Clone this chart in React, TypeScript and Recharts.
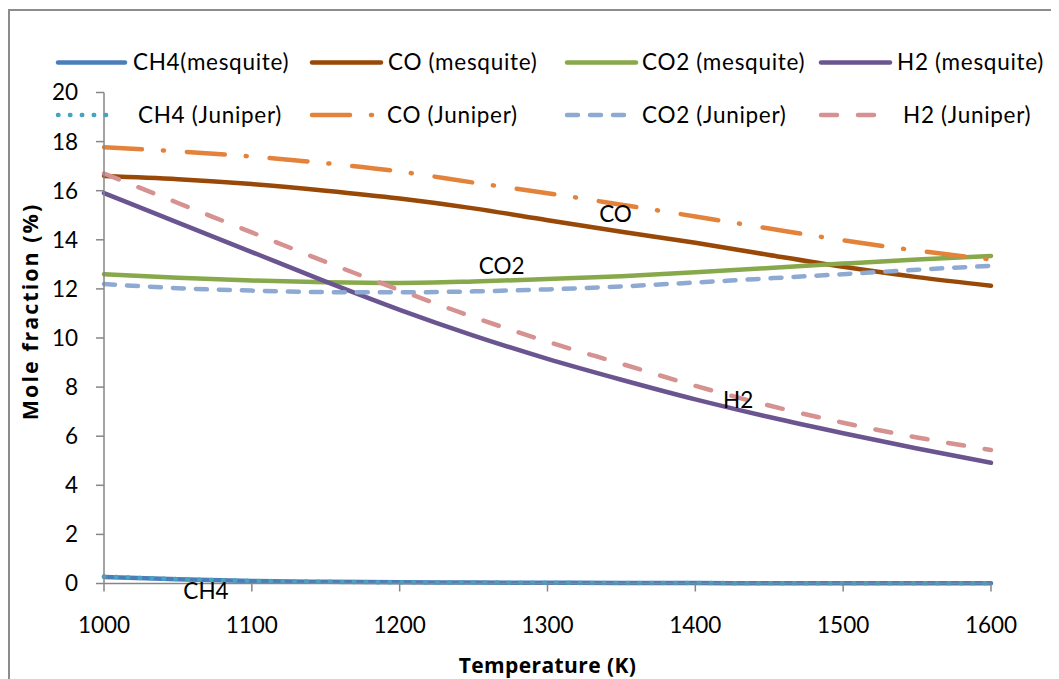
import React from 'react';
import { LineChart, Line, XAxis, YAxis, ReferenceDot, Label } from 'recharts';

// ---------- data ----------
const temperatures = [1000, 1050, 1100, 1150, 1200, 1250, 1300, 1350, 1400, 1450, 1500, 1550, 1600];

const ch4Mesquite = [0.27, 0.17, 0.1, 0.07, 0.05, 0.04, 0.03, 0.02, 0.02, 0.01, 0.01, 0.01, 0.01];
const coMesquite = [16.6, 16.47, 16.27, 16.0, 15.68, 15.28, 14.8, 14.33, 13.88, 13.38, 12.9, 12.48, 12.13];
const co2Mesquite = [12.6, 12.45, 12.34, 12.27, 12.24, 12.3, 12.4, 12.52, 12.68, 12.85, 13.03, 13.2, 13.34];
const h2Mesquite = [15.9, 14.7, 13.5, 12.3, 11.15, 10.1, 9.15, 8.3, 7.5, 6.78, 6.12, 5.5, 4.92];

const ch4Juniper = [0.28, 0.18, 0.11, 0.07, 0.05, 0.04, 0.03, 0.02, 0.02, 0.01, 0.01, 0.01, 0.01];
const coJuniper = [17.77, 17.6, 17.39, 17.12, 16.78, 16.33, 15.9, 15.43, 14.95, 14.46, 13.98, 13.56, 13.2];
const co2Juniper = [12.2, 12.03, 11.93, 11.87, 11.86, 11.9, 11.98, 12.1, 12.26, 12.43, 12.6, 12.78, 12.94];
const h2Juniper = [16.7, 15.5, 14.3, 13.1, 11.95, 10.85, 9.85, 8.95, 8.05, 7.25, 6.55, 5.95, 5.44];

const xTicks = [1000, 1100, 1200, 1300, 1400, 1500, 1600];
const yTicks = [0, 2, 4, 6, 8, 10, 12, 14, 16, 18, 20];

const annotations = [
  { text: 'CO', t: 1346, v: 15.05 },
  { text: 'CO2', t: 1269, v: 12.93 },
  { text: 'H2', t: 1429, v: 7.47 },
  { text: 'CH4', t: 1069, v: -0.31 },
];

// ---------- series styling ----------
const series = [
  { key: 'ch4M', name: 'CH4(mesquite)', values: ch4Mesquite, color: '#4A7EBB', dash: undefined as string | undefined },
  { key: 'coM', name: 'CO (mesquite)', values: coMesquite, color: '#984807', dash: undefined },
  { key: 'co2M', name: 'CO2 (mesquite)', values: co2Mesquite, color: '#87A94B', dash: undefined },
  { key: 'h2M', name: 'H2 (mesquite)', values: h2Mesquite, color: '#6B5591', dash: undefined },
  { key: 'ch4J', name: 'CH4 (Juniper)', values: ch4Juniper, color: '#45A5BF', dash: '0.5 11.4' },
  { key: 'coJ', name: 'CO (Juniper)', values: coJuniper, color: '#E3823A', dash: '38 21 1 23' },
  { key: 'co2J', name: 'CO2 (Juniper)', values: co2Juniper, color: '#8EAAD3', dash: '11 12' },
  { key: 'h2J', name: 'H2 (Juniper)', values: h2Juniper, color: '#D59291', dash: '16 21' },
];

const data = temperatures.map((t, i) => {
  const row: Record<string, number> = { t };
  series.forEach((s) => {
    row[s.key] = s.values[i];
  });
  return row;
});

// ---------- layout ----------
const W = 1051;
const H = 671;
const FONT = 'Lato, "Open Sans", sans-serif';
const TITLE_FONT = '"Open Sans", Lato, sans-serif';
const AXIS = '#868686';

const legendCols = [48, 302, 557, 811];
const legendRowY = [54.5, 107];
const legendLineLen = [
  [71, 73, 73, 73],
  [61, 66, 62, 62],
];
const legendTextX = [
  [77, 78, 77, 78],
  [82, 77, 77, 84],
];

function LegendOverlay() {
  return (
    <svg width={W} height={H} style={{ position: 'absolute', left: 0, top: 0, pointerEvents: 'none' }}>
      {series.map((s, i) => {
        const row = Math.floor(i / 4);
        const col = i % 4;
        const x0 = legendCols[col];
        const y = legendRowY[row];
        const len = legendLineLen[row][col];
        return (
          <g key={s.key}>
            <line
              x1={x0 + 2}
              x2={x0 + len - 2}
              y1={y}
              y2={y}
              stroke={s.color}
              strokeWidth={4.5}
              strokeLinecap="round"
              strokeDasharray={s.dash}
            />
            <text
              x={x0 + legendTextX[row][col]}
              y={y}
              dy="0.35em"
              fontFamily={FONT}
              fontSize={22.5}
              letterSpacing={0.7}
              fill="#000"
            >
              {s.name}
            </text>
          </g>
        );
      })}
    </svg>
  );
}

export default function App() {
  return (
    <div style={{ position: 'relative', width: W, height: H }}>
      <div style={{ position: 'absolute', left: 0, top: 0 }}>
        <LineChart
          width={W}
          height={H}
          data={data}
          margin={{ top: 84.5, right: 68, bottom: 35.5, left: 6 }}
        >
          <XAxis
            dataKey="t"
            type="number"
            domain={[1000, 1600]}
            ticks={xTicks}
            interval={0}
            height={60}
            tickSize={8}
            tickMargin={26}
            axisLine={{ stroke: AXIS, strokeWidth: 1.5 }}
            tickLine={{ stroke: AXIS, strokeWidth: 1.5 }}
            tick={{ fill: '#000', fontSize: 22.5, fontFamily: FONT }}
          >
            <Label
              content={(p: any) => {
                const vb = p.viewBox || { x: 96, y: 575.5, width: 887, height: 60 };
                return (
                  <text
                    x={vb.x + vb.width / 2}
                    y={vb.y + 89.5}
                    textAnchor="middle"
                    fontFamily={TITLE_FONT}
                    fontWeight="bold"
                    fontSize={21}
                    letterSpacing={0.4}
                    fill="#000"
                  >
                    Temperature (K)
                  </text>
                );
              }}
            />
          </XAxis>
          <YAxis
            type="number"
            domain={[0, 20]}
            ticks={yTicks}
            interval={0}
            width={90}
            tickSize={8}
            tickMargin={18}
            axisLine={{ stroke: AXIS, strokeWidth: 1.5 }}
            tickLine={{ stroke: AXIS, strokeWidth: 1.5 }}
            tick={{ fill: '#000', fontSize: 22.5, fontFamily: FONT }}
          >
            <Label
              content={(p: any) => {
                const vb = p.viewBox || { x: 6, y: 84.5, width: 90, height: 491 };
                const cx = vb.x + 24;
                const cy = vb.y + vb.height / 2 - 26.5;
                return (
                  <text
                    x={cx}
                    y={cy}
                    textAnchor="middle"
                    transform={`rotate(-90 ${cx} ${cy})`}
                    fontFamily={TITLE_FONT}
                    fontWeight="bold"
                    fontSize={21.5}
                    letterSpacing={2}
                    fill="#000"
                  >
                    Mole fraction (%)
                  </text>
                );
              }}
            />
          </YAxis>
          {series.map((s) => (
            <Line
              key={s.key}
              type="monotone"
              dataKey={s.key}
              name={s.name}
              stroke={s.color}
              strokeWidth={4.5}
              strokeDasharray={s.dash}
              strokeLinecap="round"
              dot={false}
              activeDot={false}
              isAnimationActive={false}
            />
          ))}
          {annotations.map((a) => (
            <ReferenceDot
              key={a.text}
              x={a.t}
              y={a.v}
              r={0}
              fill="none"
              stroke="none"
              ifOverflow="visible"
              label={{
                value: a.text,
                position: 'center',
                fill: '#000',
                fontSize: 22.5,
                fontFamily: FONT,
              }}
            />
          ))}
        </LineChart>
      </div>
      <LegendOverlay />
      <div
        style={{
          position: 'absolute',
          left: 0,
          top: 1,
          width: W,
          height: H - 1,
          borderTop: '2px solid #8c8c8c',
          borderLeft: '2px solid #8c8c8c',
          boxSizing: 'border-box',
          pointerEvents: 'none',
        }}
      />
    </div>
  );
}
